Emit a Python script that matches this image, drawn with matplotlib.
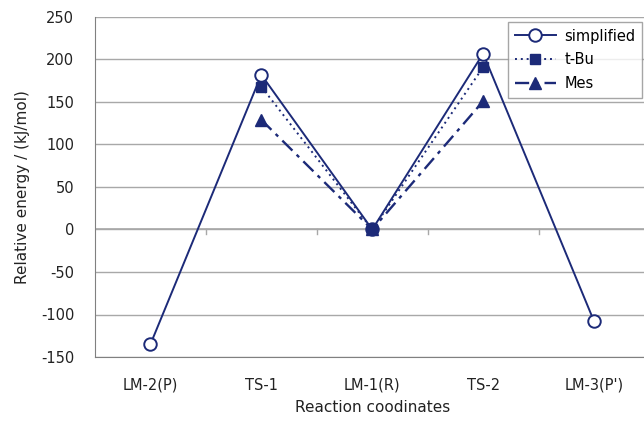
import matplotlib
matplotlib.use("Agg")
import matplotlib.pyplot as plt
import numpy as np

plt.rcParams["axes.unicode_minus"] = False

categories = ["LM-2(P)", "TS-1", "LM-1(R)", "TS-2", "LM-3(P')"]
simplified = [-135, 182, 0, 207, -108]
tbu = [None, 168, 0, 191, None]
mes = [None, 129, 0, 151, None]
yticks = [-150, -100, -50, 0, 50, 100, 150, 200, 250]

navy = "#1c2a78"
grid = "#a8a8a8"

fig = plt.figure(figsize=(6.44, 4.21), dpi=100)
ax = fig.add_axes([95/644, 64/421, (649.5-95)/644, (357-17)/421])

x = np.arange(len(categories))

def seg(vals):
    xs = [i for i, v in enumerate(vals) if v is not None]
    ys = [v for v in vals if v is not None]
    return xs, ys

ax.plot(x, simplified, color=navy, lw=1.4, marker="o", ms=9,
        mfc="white", mec=navy, mew=1.4, label="simplified", zorder=3)
xs, ys = seg(tbu)
ax.plot(xs, ys, color=navy, lw=1.4, ls=(0, (1, 2)), marker="s", ms=7,
        mfc=navy, mec=navy, label="t-Bu", zorder=4)
xs, ys = seg(mes)
ax.plot(xs, ys, color=navy, lw=1.7, ls=(0, (6, 2.5, 1.5, 2.5)), marker="^", ms=8,
        mfc=navy, mec=navy, label="Mes", zorder=4)

ax.set_xlim(-0.5, len(categories) - 0.5)
ax.set_ylim(-150, 250)
ax.set_yticks(yticks)
ax.yaxis.grid(True, color=grid, lw=1.0)
ax.set_axisbelow(True)

# zero line with category-boundary ticks
ax.axhline(0, color=grid, lw=1.2, zorder=1)
for b in np.arange(0.5, len(categories) - 0.5, 1):
    ax.plot([b, b], [0, -5], color=grid, lw=1.0, zorder=1)

ax.set_xticks(x)
ax.set_xticklabels(categories)
ax.tick_params(axis="x", length=0, pad=15, labelsize=10.5, colors="#222222")
ax.tick_params(axis="y", length=0, pad=15, labelsize=10.5, colors="#222222")

for s in ["left", "bottom"]:
    ax.spines[s].set_color("#808080")
for s in ["top", "right"]:
    ax.spines[s].set_visible(False)

ax.set_xlabel("Reaction coodinates", fontsize=11, color="#222222", labelpad=5)
ax.set_ylabel("Relative energy / (kJ/mol)", fontsize=11, color="#222222", labelpad=8)

leg = fig.legend(loc="upper right", bbox_to_anchor=(642/644, 1 - 22/421),
                 frameon=True, fancybox=False, edgecolor="#909090",
                 fontsize=10.5, handlelength=2.8, borderpad=0.45, labelspacing=0.6,
                 handletextpad=0.6, borderaxespad=0)
leg.get_frame().set_linewidth(1.0)

fig.savefig("out.png", dpi=100)
